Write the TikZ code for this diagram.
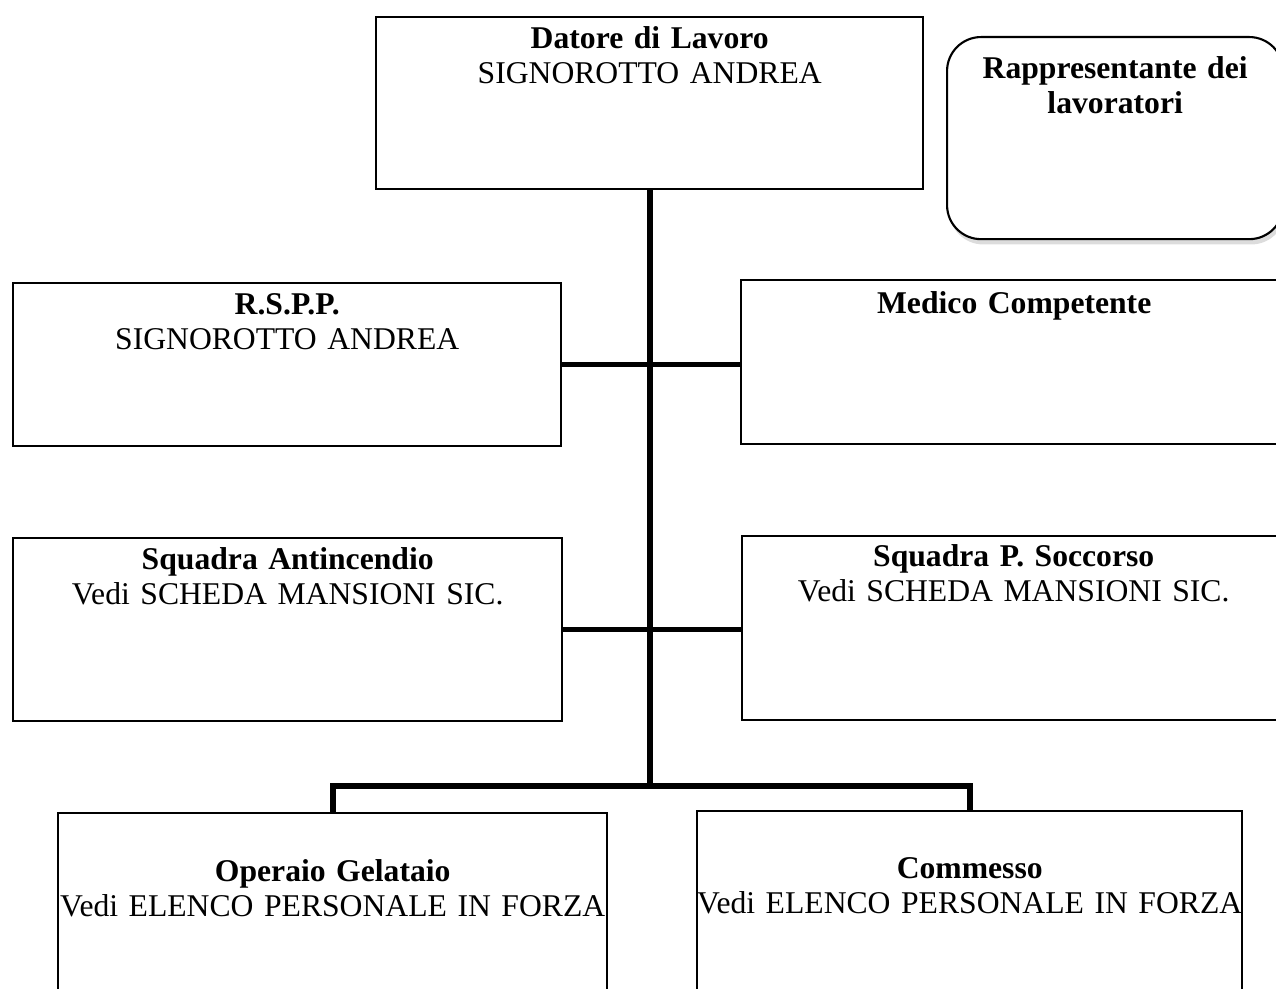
\documentclass[tikz,border=0pt]{standalone}
\usepackage{fontspec}
\setmainfont{Liberation Serif}
\usepackage{tikz}
\usetikzlibrary{positioning, shadows}

\begin{document}
\begin{tikzpicture}[x=0.01cm, y=-0.01cm,
  carica/.style={draw, line width=0.6pt, anchor=north west, align=center,
    inner xsep=0pt, inner ysep=0pt, font=\fontsize{9}{10.2}\selectfont},
  tronco/.style={line width=1.6pt}]
  \clip (0,0) rectangle (1276,989);

  % Datore di lavoro
  \node[carica, text width=5.47cm, text height=0.31cm, text depth=1.41cm] (datore) at (375,16) {
    \textbf{Datore di Lavoro}\\SIGNOROTTO ANDREA
  };

  % Rappresentante dei lavoratori
  \node[carica, rounded corners=0.34cm, fill=white, text width=3.36cm, text height=0.41cm, text depth=1.61cm,
    drop shadow={shadow xshift=0.6pt, shadow yshift=-1.5pt, fill=gray!55}] (rls) at (946,36) {
    \textbf{Rappresentante dei}\\\textbf{lavoratori}
  };

  % RSPP e medico
  \node[carica, text width=5.48cm, text height=0.31cm, text depth=1.32cm] (rspp) at (12,282) {
    \textbf{R.S.P.P.}\\SIGNOROTTO ANDREA
  };
  \node[carica, text width=5.46cm, text height=0.33cm, text depth=1.31cm] (medico) at (740,279) {
    \textbf{Medico Competente}
  };

  % Squadre
  \node[carica, text width=5.49cm, text height=0.31cm, text depth=1.52cm] (antincendio) at (12,537) {
    \textbf{Squadra Antincendio}\\Vedi SCHEDA MANSIONI SIC.
  };
  \node[carica, text width=5.43cm, text height=0.30cm, text depth=1.54cm] (soccorso) at (741,535) {
    \textbf{Squadra P. Soccorso}\\Vedi SCHEDA MANSIONI SIC.
  };

  % Personale
  \node[carica, text width=5.49cm, text height=0.68cm, text depth=1.6cm] (operaio) at (57,812) {
    \textbf{Operaio Gelataio}\\Vedi ELENCO PERSONALE IN FORZA
  };
  \node[carica, text width=5.45cm, text height=0.67cm, text depth=1.6cm] (commesso) at (696,810) {
    \textbf{Commesso}\\Vedi ELENCO PERSONALE IN FORZA
  };

  % Collegamenti
  \coordinate (bus) at (0,786);
  \draw[tronco] (datore.south) -- (datore.south |- bus);
  \draw[tronco] (rspp.east) -- (rspp.east -| medico.west);
  \draw[tronco] (antincendio.east) -- (antincendio.east -| soccorso.west);
  \draw[tronco] (operaio.north) -- (operaio.north |- bus) -- (commesso.north |- bus) -- (commesso.north);
\end{tikzpicture}
\end{document}
